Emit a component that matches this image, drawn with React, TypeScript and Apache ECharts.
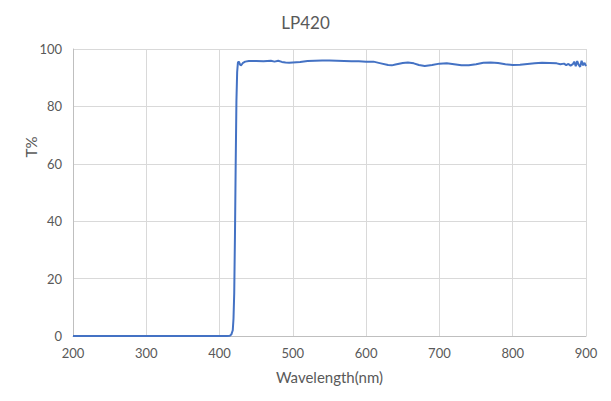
import React, { useEffect, useRef } from "react";
import * as echarts from "echarts";

const wavelengths: number[] = [
  200, 300, 400, 410, 414, 416, 418, 419, 420, 421, 422, 423, 424, 425, 426, 427, 428, 429, 430, 432,
  435, 440, 450, 460, 470, 475, 480, 485, 490, 495, 500, 510, 520, 530, 540, 550, 560, 570, 580, 590,
  600, 610, 620, 630, 635, 640, 650, 657, 665, 672, 680, 690, 700, 710, 720, 730, 740, 750, 760, 770,
  780, 790, 800, 810, 820, 830, 840, 850, 860, 865, 870, 873, 876, 879, 882, 884, 886, 888, 890, 892,
  894, 896, 898, 900,
];
const transmission: number[] = [
  0, 0, 0, 0, 0.1, 0.5, 2, 6, 15, 35, 60, 82, 92, 95.2, 95.6, 95.2, 94.6, 94.3, 94.5, 95.2,
  95.6, 95.8, 95.8, 95.7, 95.9, 95.6, 95.9, 95.5, 95.3, 95.2, 95.3, 95.5, 95.8, 95.9, 96.0, 96.0, 95.9, 95.8, 95.7, 95.7,
  95.6, 95.6, 95.0, 94.4, 94.3, 94.6, 95.1, 95.3, 95.0, 94.4, 94.1, 94.4, 94.9, 95.0, 94.7, 94.3, 94.3, 94.7, 95.2, 95.3,
  95.1, 94.7, 94.4, 94.5, 94.8, 95.0, 95.2, 95.1, 95.0, 94.7, 94.9, 94.4, 94.8, 94.2, 94.7, 95.6, 94.0, 95.8, 94.5, 93.8,
  95.9, 94.3, 95.2, 94.0,
];
const xTicks = { min: 200, max: 900, interval: 100 };
const yTicks = { min: 0, max: 100, interval: 20 };
const title = "LP420";
const xName = "Wavelength(nm)";
const yName = "T%";

const FONT = "Lato, 'Open Sans', sans-serif";
const GREY = "#595959";

export default function App() {
  const ref = useRef<HTMLDivElement>(null);
  useEffect(() => {
    if (!ref.current) return;
    const chart = echarts.init(ref.current, undefined, { renderer: "svg" });
    chart.setOption({
      animation: false,
      backgroundColor: "#ffffff",
      title: {
        text: title,
        left: "center",
        top: 9,
        textStyle: { fontFamily: FONT, fontSize: 17, fontWeight: "normal", color: GREY },
      },
      grid: { left: 73, right: 25, top: 49, bottom: 65 },
      xAxis: {
        type: "value",
        min: xTicks.min,
        max: xTicks.max,
        interval: xTicks.interval,
        name: xName,
        nameLocation: "middle",
        nameGap: 33,
        nameTextStyle: { fontFamily: FONT, fontSize: 15, color: GREY },
        axisLine: { show: true, lineStyle: { color: "#bfbfbf" } },
        axisTick: { show: false },
        axisLabel: { fontFamily: FONT, fontSize: 13, color: GREY, margin: 10 },
        splitLine: { show: true, lineStyle: { color: "#d9d9d9" } },
      },
      yAxis: {
        type: "value",
        min: yTicks.min,
        max: yTicks.max,
        interval: yTicks.interval,
        axisLine: { show: true, lineStyle: { color: "#bfbfbf" } },
        axisTick: { show: false },
        axisLabel: { fontFamily: FONT, fontSize: 13, color: GREY, margin: 11 },
        splitLine: { show: true, lineStyle: { color: "#d9d9d9" } },
      },
      graphic: [
        {
          type: "text",
          x: 31,
          y: 147,
          rotation: Math.PI / 2,
          style: {
            text: yName,
            fontFamily: FONT,
            fontSize: 15,
            fill: GREY,
            align: "center",
            verticalAlign: "middle",
          },
        },
      ],
      series: [
        {
          type: "line",
          data: wavelengths.map((w, i) => [w, transmission[i]]),
          showSymbol: false,
          symbol: "none",
          lineStyle: { color: "#4472c4", width: 2 },
          clip: false,
        },
      ],
    });
    return () => chart.dispose();
  }, []);
  return (
    <div
      ref={ref}
      style={{ position: "fixed", left: 0, top: 0, width: 611, height: 401 }}
    />
  );
}
